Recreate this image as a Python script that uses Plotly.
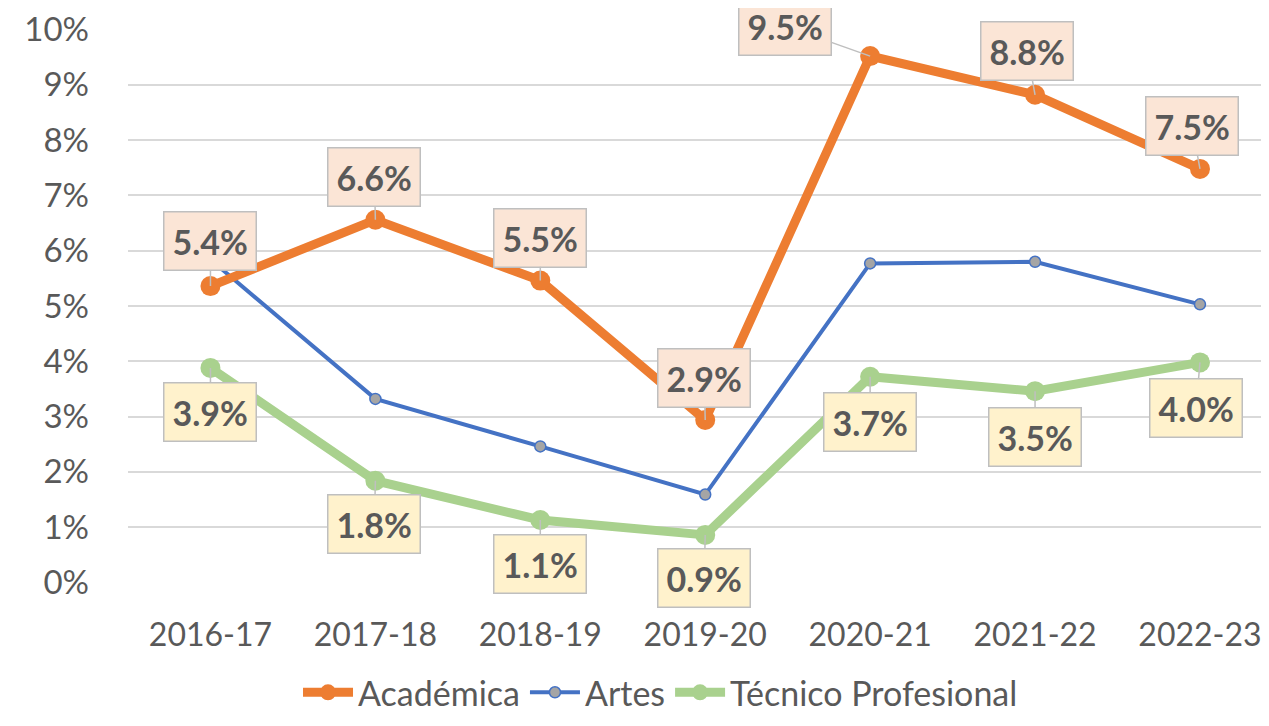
import plotly.graph_objects as go

years = ["2016-17", "2017-18", "2018-19", "2019-20", "2020-21", "2021-22", "2022-23"]
academica = [5.36, 6.56, 5.46, 2.94, 9.52, 8.82, 7.48]
artes = [5.84, 3.32, 2.46, 1.59, 5.77, 5.80, 5.03]
tecnico = [3.88, 1.84, 1.13, 0.86, 3.72, 3.46, 3.98]
y_ticks = list(range(0, 11))

TEXT = "#595959"
FONT = "Lato"

# label box offsets (px) from each point
acad_off = [(0, -45), (-1, -43), (0, -43), (-1, -42), (-85, -30), (-8, -44), (-8, -43)]
tec_off = [(0, 44), (-1, 43), (0, 44), (-1, 43), (0, 45), (0, 46), (-4, 46)]

fig = go.Figure()
fig.add_trace(go.Scatter(
    x=years, y=artes, name="Artes", mode="lines+markers",
    line=dict(color="#4472C4", width=4),
    marker=dict(size=11, color="#A5A5A5", line=dict(color="#4472C4", width=1.5)),
))
fig.add_trace(go.Scatter(
    x=years, y=tecnico, name="Técnico Profesional", mode="lines+markers",
    line=dict(color="#A9D18E", width=9),
    marker=dict(size=20, color="#A9D18E"),
))
fig.add_trace(go.Scatter(
    x=years, y=academica, name="Académica", mode="lines+markers",
    line=dict(color="#ED7D31", width=9),
    marker=dict(size=20, color="#ED7D31"),
))


def add_labels(values, offsets, fill):
    for yr, v, (dx, dy) in zip(years, values, offsets):
        fig.add_annotation(
            x=yr, y=v, text=f"<b>{v:.1f}%</b>", ax=dx, ay=dy,
            showarrow=True, arrowhead=0, arrowwidth=1.5, arrowcolor="#BFBFBF",
            bgcolor=fill, bordercolor="#BFBFBF", borderwidth=1.5, borderpad=8,
            font=dict(family=FONT, size=34, color=TEXT),
        )


add_labels(academica, acad_off, "#FBE5D6")
add_labels(tecnico, tec_off, "#FFF2CC")

# page body has an 8px margin, so the figure is sized to fit inside it
fig.update_layout(
    width=1253, height=710,
    margin=dict(l=120, r=0, t=21, b=135, autoexpand=False),
    plot_bgcolor="white", paper_bgcolor="white",
    font=dict(family=FONT, size=34, color=TEXT),
    showlegend=True,
    legend=dict(
        orientation="h", x=0.47, xanchor="center", y=-0.198, yanchor="middle",
        traceorder="normal", font=dict(size=34, color=TEXT),
        itemwidth=50,
    ),
)
fig.update_xaxes(
    range=[-0.5, 6.37], showgrid=False, zeroline=False, showline=False,
    automargin=False, ticklabeloverflow="allow",
    ticks="", ticklabelstandoff=30, tickfont=dict(size=32, color=TEXT),
)
fig.update_yaxes(
    range=[-0.01, 10.01], tickvals=y_ticks, ticktext=[f"{t}%" for t in y_ticks],
    showgrid=True, gridcolor="#D9D9D9", gridwidth=1.5, zeroline=False,
    automargin=False, ticklabeloverflow="allow",
    ticks="", ticklabelstandoff=38, tickfont=dict(size=33, color=TEXT),
)

# legend order: Académica, Artes, Técnico
fig.data[2].legendrank = 1
fig.data[0].legendrank = 2
fig.data[1].legendrank = 3

fig.write_html("out.html")
